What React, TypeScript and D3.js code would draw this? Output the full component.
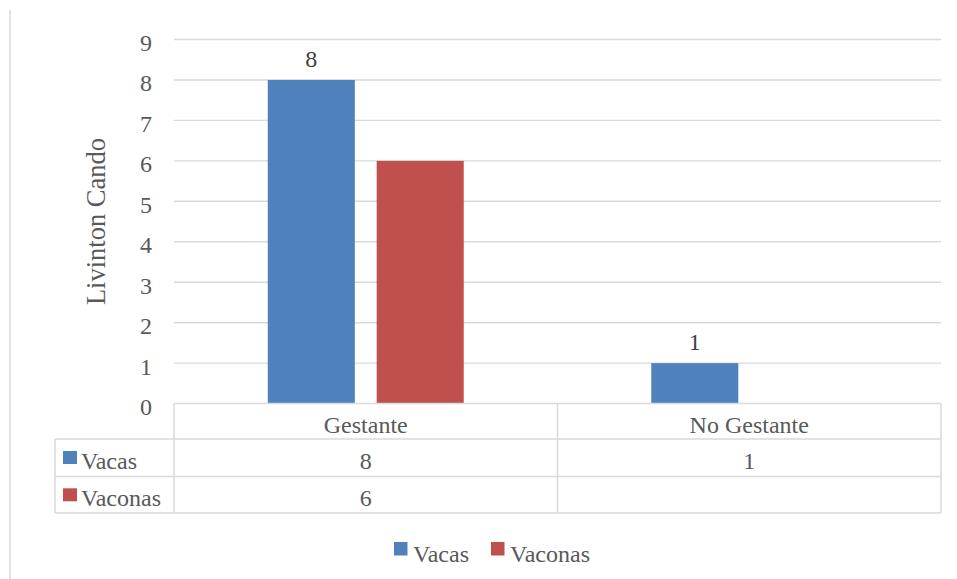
import React from "react";
import * as d3 from "d3";

const categories = ["Gestante", "No Gestante"];
const seriesNames = ["Vacas", "Vaconas"];
const vacas = [8, 1];
const vaconas = [6, null];
const seriesColors = ["#4f81bd", "#c0504d"];
const yTicks = [0, 1, 2, 3, 4, 5, 6, 7, 8, 9];
const yTitle = "Livinton Cando";

const W = 957, H = 579;
const FONT = "'Liberation Serif', 'Times New Roman', serif";
const TXT = "#595959";
const GRID = "#d9d9d9";

export default function App() {
  const left = 174, right = 941, top = 39.5, bottom = 403.6;
  const y = d3.scaleLinear().domain([0, 9]).range([bottom, top]);
  const x0 = d3.scaleBand().domain(categories).range([left, right]).paddingInner(0).paddingOuter(0);
  const bandW = x0.bandwidth();
  const barW = bandW * 0.227;
  const gap = bandW * 0.057;
  const x1 = (ci: number, si: number) => x0(categories[ci])! + bandW / 2 - (barW * 2 + gap) / 2 + si * (barW + gap);
  const series = [vacas, vaconas];

  const tableLeft = 55;
  const rowY = [403.6, 439, 476.5, 513];
  const fs = 24;

  return (
    <svg width={W} height={H} style={{ position: "absolute", left: 0, top: 0, background: "#fff" }} fontFamily={FONT}>
      <rect x={0} y={0} width={W} height={H} fill="#fff" />
      <line x1={10} x2={10} y1={10} y2={H} stroke={GRID} strokeWidth={1.5} />
      {yTicks.map((t) => (
        <g key={t}>
          {t > 0 && <line x1={left} x2={right} y1={y(t)} y2={y(t)} stroke={GRID} strokeWidth={1.4} />}
          <text x={152} y={y(t) + 11.5} textAnchor="end" fontSize={fs} fill={TXT}>{t}</text>
        </g>
      ))}
      <text transform={`translate(105,${(top + bottom) / 2}) rotate(-90)`} textAnchor="middle" fontSize={26.5} fill={TXT}>{yTitle}</text>
      {series.map((vals, si) =>
        vals.map((v, ci) =>
          v == null ? null : (
            <g key={`${si}-${ci}`}>
              <rect x={x1(ci, si)} y={y(v)} width={barW} height={bottom - y(v)} fill={seriesColors[si]} />
              {si === 0 && (
                <text x={x1(ci, si) + barW / 2} y={y(v) - 13.3} textAnchor="middle" fontSize={fs} fill="#404040">{v}</text>
              )}
            </g>
          )
        )
      )}
      {/* data table */}
      <g stroke={GRID} strokeWidth={1.5} fill="none">
        <line x1={left} x2={right} y1={rowY[0]} y2={rowY[0]} />
        <line x1={tableLeft} x2={right} y1={rowY[1]} y2={rowY[1]} />
        <line x1={tableLeft} x2={right} y1={rowY[2]} y2={rowY[2]} />
        <line x1={tableLeft} x2={right} y1={rowY[3]} y2={rowY[3]} />
        <line x1={tableLeft} x2={tableLeft} y1={rowY[1]} y2={rowY[3]} />
        <line x1={left} x2={left} y1={rowY[0]} y2={rowY[3]} />
        <line x1={x0(categories[1])!} x2={x0(categories[1])!} y1={rowY[0]} y2={rowY[3]} />
        <line x1={right} x2={right} y1={rowY[0]} y2={rowY[3]} />
      </g>
      {categories.map((c) => (
        <text key={c} x={x0(c)! + bandW / 2} y={433.3} textAnchor="middle" fontSize={fs} fill={TXT}>{c}</text>
      ))}
      {series.map((vals, si) => {
        const base = si === 0 ? 469 : 506.3;
        return (
          <g key={si}>
            <rect x={63} y={base - 18} width={14} height={13} fill={seriesColors[si]} />
            <text x={81} y={base} fontSize={fs} fill={TXT}>{seriesNames[si]}</text>
            {vals.map((v, ci) => v == null ? null : (
              <text key={ci} x={x0(categories[ci])! + bandW / 2} y={base} textAnchor="middle" fontSize={fs} fill={TXT}>{v}</text>
            ))}
          </g>
        );
      })}
      {/* legend */}
      {seriesNames.map((n, i) => {
        const lx = i === 0 ? 394 : 491;
        return (
          <g key={n}>
            <rect x={lx} y={542} width={13.5} height={13.5} fill={seriesColors[i]} />
            <text x={lx + 19} y={561.5} fontSize={fs} fill={TXT}>{n}</text>
          </g>
        );
      })}
    </svg>
  );
}
